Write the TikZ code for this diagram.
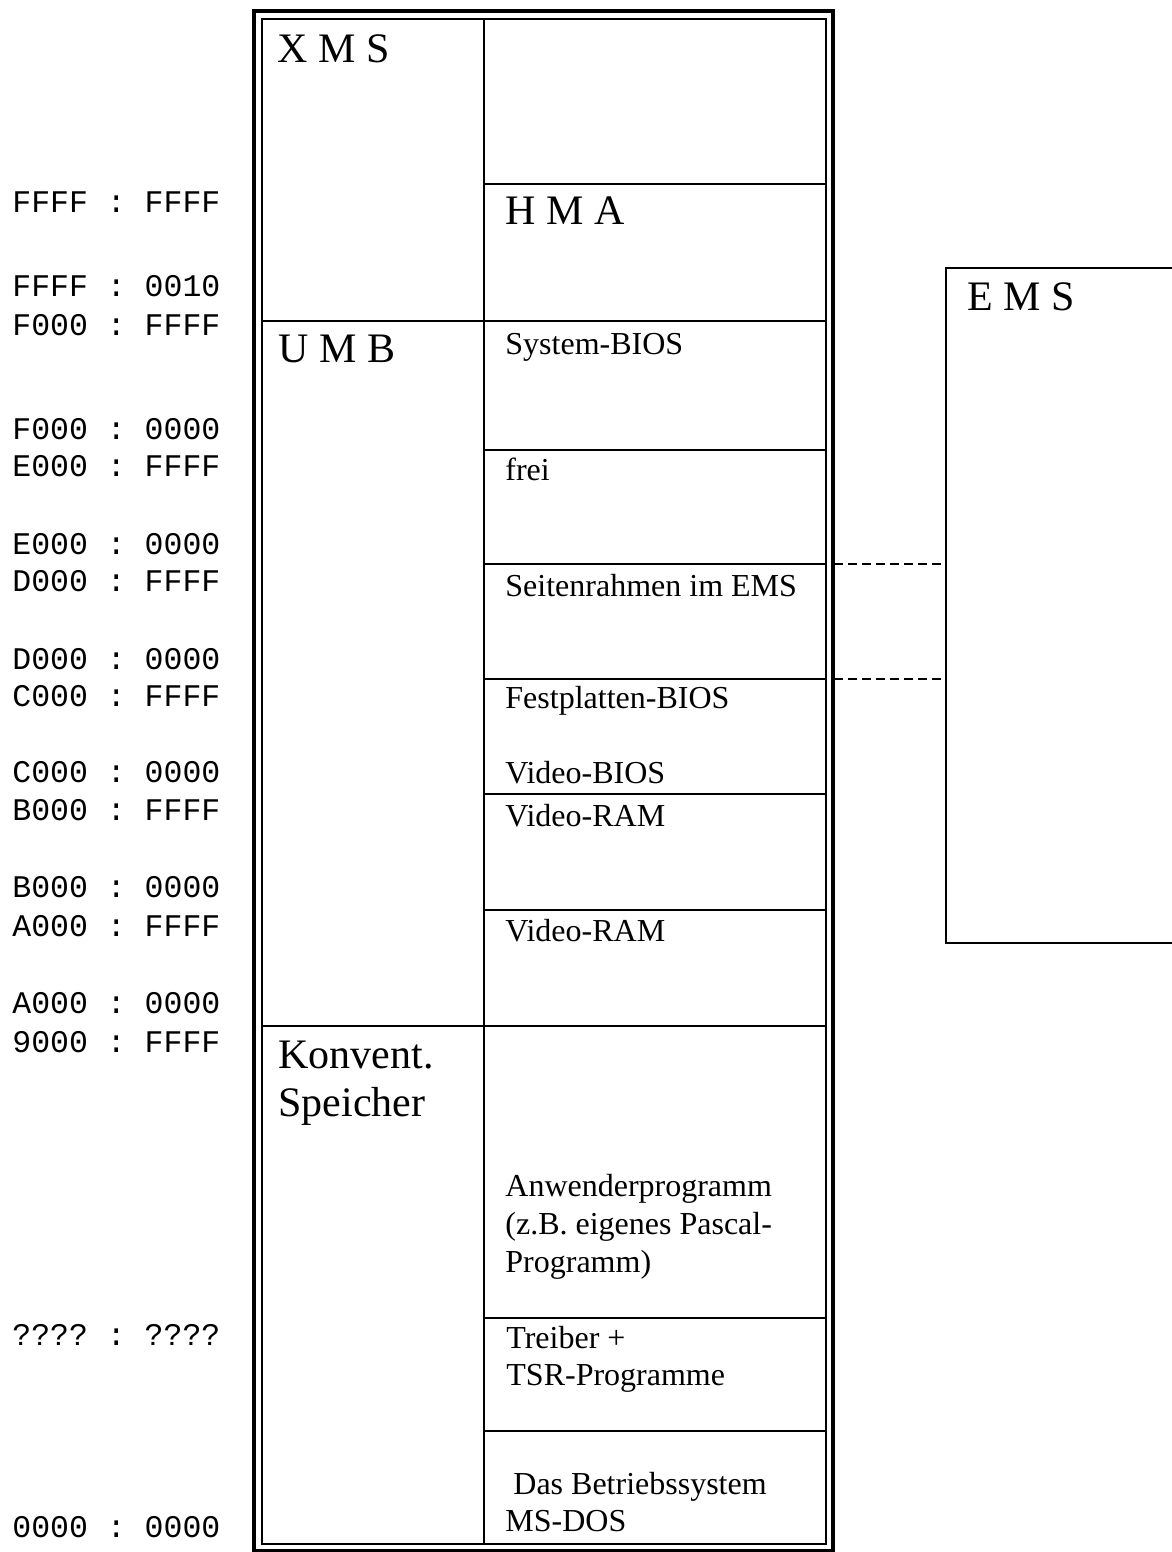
\documentclass[tikz,border=0pt]{standalone}
\usepackage{fontspec}
\setmainfont{Liberation Serif}
\setmonofont{Liberation Mono}
\usepackage{tikz}
\usetikzlibrary{positioning}

\newcommand{\celltxt}{\fontsize{16}{19}\selectfont}
\newcommand{\areatxt}{\fontsize{21}{24}\selectfont}
\newcommand{\addrtxt}{\ttfamily\fontsize{15.75}{18}\selectfont}

\tikzset{
  addr/.style={anchor=base west, inner sep=0pt, font=\addrtxt},
  cell/.style={anchor=base west, inner sep=0pt, font=\celltxt},
  area/.style={anchor=base west, inner sep=0pt, font=\areatxt},
  rowline/.style={line width=1pt},
  frameout/.style={line width=2pt},
  framein/.style={line width=1.2pt},
  pagelink/.style={dashed, dash pattern=on 4.5pt off 2.5pt, line width=0.7pt}
}

\begin{document}
\begin{tikzpicture}[x=0.5pt, y=-0.5pt]
    \useasboundingbox (0,0) rectangle (1172,1552);

    % Define points
    \coordinate (OTL) at (254,11);
    \coordinate (OBR) at (833,1551);
    \coordinate (ITL) at (262,19);
    \coordinate (IBR) at (826,1544);
    \coordinate (Mid) at (484,19);
    \coordinate (MidB) at (484,1544);

    % Double frame of the memory block
    \draw[frameout] (OTL) rectangle (OBR);
    \draw[framein] (ITL) rectangle (IBR);
    \draw[rowline] (Mid) -- (MidB);

    % Row borders
    \foreach \y in {184,450,564,679,794,910,1318,1431}
        \draw[rowline] (484,\y) -- (826,\y);
    \foreach \y in {321,1026}
        \draw[rowline] (262,\y) -- (826,\y);

    % EMS box and page frame
    \coordinate (EmsTL) at (946,268);
    \coordinate (EmsBL) at (946,943);
    \coordinate (FrameA) at (946,564);
    \coordinate (FrameB) at (946,679);
    \coordinate (BlockA) at (834,564);
    \coordinate (BlockB) at (834,679);
    \draw[rowline] (1172,268) -- (EmsTL) -- (EmsBL) -- (1172,943);
    \draw[pagelink] (BlockA) -- (FrameA);
    \draw[pagelink] (BlockB) -- (FrameB);

    % Address labels
    \foreach \y/\t [count=\i] in {212/FFFF : FFFF, 296/FFFF : 0010,
        335/F000 : FFFF, 439/F000 : 0000, 476/E000 : FFFF, 554/E000 : 0000,
        591/D000 : FFFF, 669/D000 : 0000, 706/C000 : FFFF, 782/C000 : 0000,
        820/B000 : FFFF, 897/B000 : 0000, 936/A000 : FFFF, 1013/A000 : 0000,
        1052/9000 : FFFF, 1345/???? : ????, 1537/0000 : 0000}
        \node[addr] (adr\i) at (12,\y) {\t};

    % Areas
    \node[area] (xms) at (277,63) {X M S};
    \node[area] (umb) at (278,362) {U M B};
    \node[area] (konv) at (278,1068) {Konvent.};
    \node[area] (speich) at (278,1116) {Speicher};
    \node[area] (hma) at (505,224) {H M A};
    \node[area] (ems) at (967,310) {E M S};

    % Cells
    \node[cell] (sysbios) at (505,354) {System-BIOS};
    \node[cell] (frei) at (505,480) {frei};
    \node[cell] (seiten) at (505,596) {Seitenrahmen im EMS};
    \node[cell] (hdbios) at (505,708) {Festplatten-BIOS};
    \node[cell] (vidbios) at (505,783) {Video-BIOS};
    \node[cell] (vram1) at (505,826) {Video-RAM};
    \node[cell] (vram2) at (505,941) {Video-RAM};
    \node[cell] (anw1) at (505,1196) {Anwenderprogramm};
    \node[cell] (anw2) at (505,1234) {(z.B. eigenes Pascal-};
    \node[cell] (anw3) at (505,1272) {Programm)};
    \node[cell] (treib1) at (506,1348) {Treiber +};
    \node[cell] (treib2) at (506,1385) {TSR-Programme};
    \node[cell] (dos1) at (513,1494) {Das Betriebssystem};
    \node[cell] (dos2) at (505,1531) {MS-DOS};
\end{tikzpicture}
\end{document}
